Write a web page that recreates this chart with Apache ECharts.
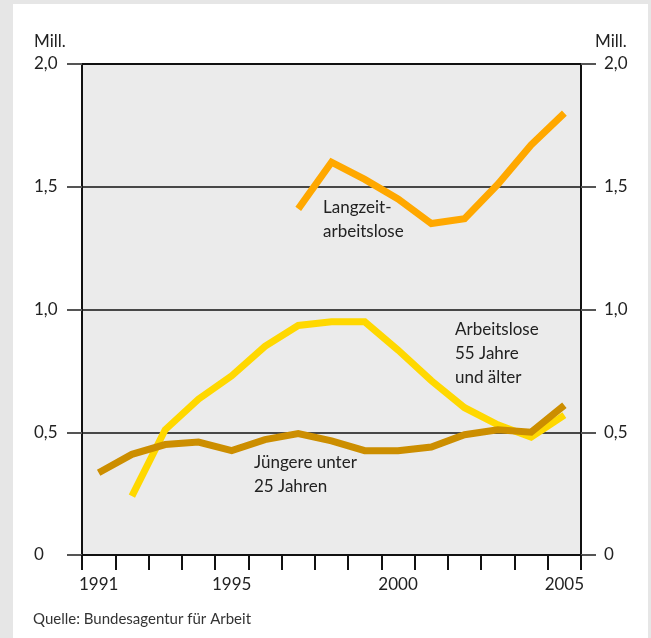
<!DOCTYPE html>
<html>
<head>
<meta charset="utf-8">
<script src="https://cdn.jsdelivr.net/npm/echarts@6/dist/echarts.min.js"></script>
<style>
html,body{margin:0;padding:0;background:#e6e6e6;}
#panel{position:absolute;left:13px;top:4px;width:635px;height:634px;background:#ffffff;}
#chart{position:absolute;left:0;top:0;width:651px;height:638px;}
</style>
</head>
<body>
<div id="panel"></div>
<div id="chart"></div>
<script>
const years = ['1991','1992','1993','1994','1995','1996','1997','1998','1999','2000','2001','2002','2003','2004','2005'];
const shownYears = ['1991','1995','2000','2005'];
const langzeit = [null,null,null,null,null,null,1.41,1.60,1.53,1.45,1.35,1.37,1.51,1.67,1.80];
const aelter55 = [null,0.24,0.51,0.635,0.73,0.85,0.935,0.95,0.95,0.835,0.71,0.60,0.53,0.48,0.57];
const juengere = [0.335,0.41,0.45,0.46,0.425,0.47,0.495,0.465,0.425,0.425,0.44,0.49,0.51,0.50,0.61];
const yTicks = [0, 0.5, 1.0, 1.5, 2.0];

const FONT = 'Lato';
const TXT = '#222222';
const fmt = v => v === 0 ? '0' : v.toFixed(1).replace('.', ',');

const chart = echarts.init(document.getElementById('chart'), null, {renderer:'canvas'});
const yCommon = {
  type:'value', min:yTicks[0], max:yTicks[yTicks.length-1], interval:0.5,
  axisLine:{show:true, lineStyle:{color:'#111', width:2}},
  axisTick:{show:true, length:15, lineStyle:{color:'#555', width:2}},
};
chart.setOption({
  animation:false,
  backgroundColor:'transparent',
  textStyle:{fontFamily:FONT},
  grid:{left:82, right:70, top:64, bottom:83, show:true, backgroundColor:'#ebebeb', borderColor:'#111', borderWidth:2},
  xAxis:{
    type:'category', data:years, boundaryGap:true,
    axisLine:{show:true, lineStyle:{color:'#111', width:2}},
    axisTick:{show:true, interval:0, length:15, lineStyle:{color:'#111', width:2}},
    axisLabel:{interval:0, color:TXT, fontFamily:FONT, fontSize:17, margin:21,
      formatter: v => shownYears.indexOf(v) >= 0 ? v : ''},
    splitLine:{show:false}
  },
  yAxis:[
    Object.assign({}, yCommon, {position:'left',
      splitLine:{show:true, lineStyle:{color:'#111', width:1.5}},
      axisLabel:{color:TXT, fontFamily:FONT, fontSize:17, margin:48, align:'left', formatter:fmt}}),
    Object.assign({}, yCommon, {position:'right', splitLine:{show:false},
      axisLabel:{color:TXT, fontFamily:FONT, fontSize:17, margin:23, align:'left', formatter:fmt}})
  ],
  series:[
    {name:'Langzeitarbeitslose', type:'line', data:langzeit, showSymbol:false, symbol:'none',
      lineStyle:{color:'#ffa800', width:7, cap:'butt', join:'miter'}},
    {name:'Arbeitslose 55 Jahre und älter', type:'line', data:aelter55, showSymbol:false, symbol:'none',
      lineStyle:{color:'#ffd800', width:7, cap:'butt', join:'miter'}},
    {name:'Jüngere unter 25 Jahren', type:'line', data:juengere, showSymbol:false, symbol:'none',
      lineStyle:{color:'#cc8e00', width:7, cap:'butt', join:'miter'}}
  ],
  graphic:[
    {type:'text', left:34, top:33, style:{text:'Mill.', fill:TXT, font:'17px Lato'}},
    {type:'text', left:595, top:33, style:{text:'Mill.', fill:TXT, font:'17px Lato'}},
    {type:'text', left:323, top:196, style:{text:'Langzeit-\narbeitslose', fill:TXT, font:'17px Lato', lineHeight:24}},
    {type:'text', left:455, top:318, style:{text:'Arbeitslose\n55 Jahre\nund älter', fill:TXT, font:'17px Lato', lineHeight:24}},
    {type:'text', left:254, top:451, style:{text:'Jüngere unter\n25 Jahren', fill:TXT, font:'17px Lato', lineHeight:24}},
    {type:'text', left:33, top:612, style:{text:'Quelle: Bundesagentur für Arbeit', fill:'#333', font:'15px Lato'}}
  ]
});
</script>
</body>
</html>
